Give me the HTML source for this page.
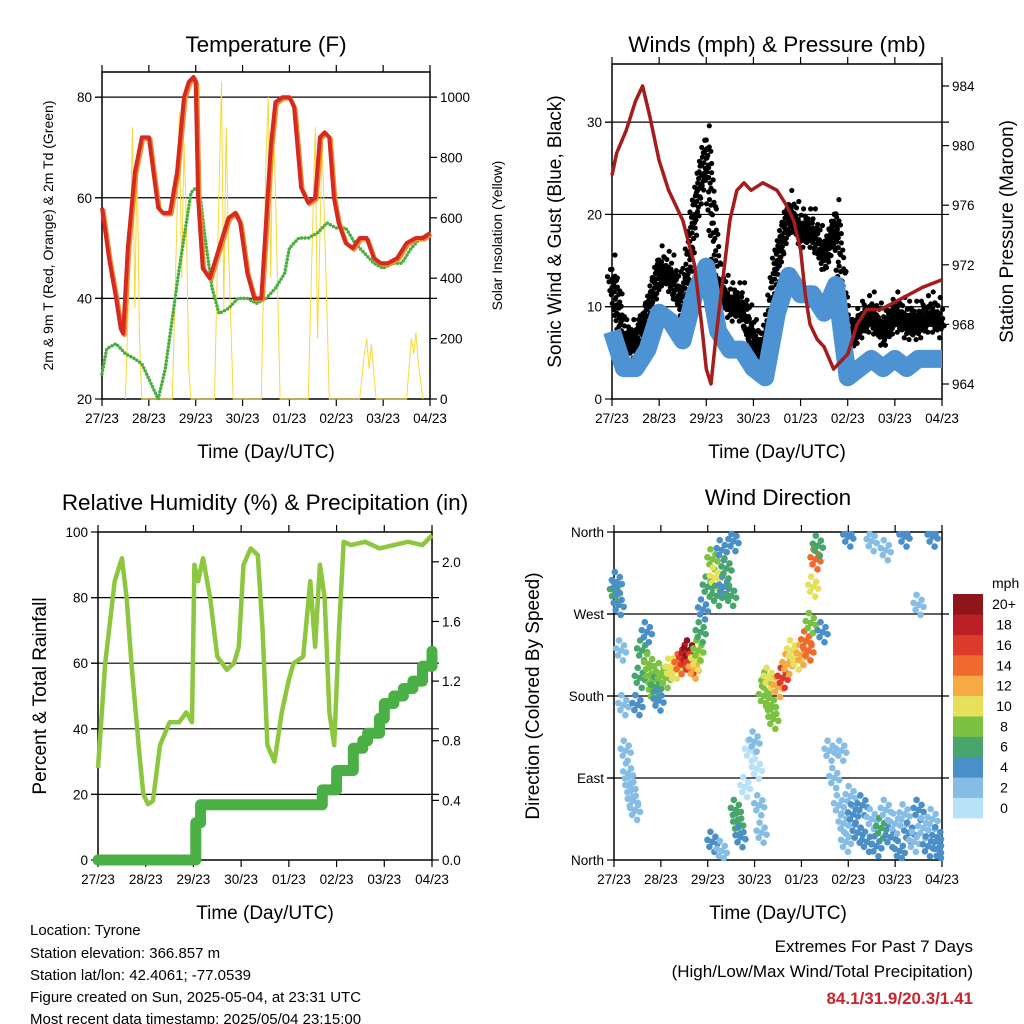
<!DOCTYPE html>
<html><head><meta charset="utf-8">
<style>
html,body{margin:0;padding:0;background:#fff;}
svg{display:block;font-family:"Liberation Sans",sans-serif;}
</style></head>
<body>
<svg id="fig" width="1024" height="1024" viewBox="0 0 1024 1024" xmlns="http://www.w3.org/2000/svg">
<g id="layer"></g>
<g font-size="15" fill="#000">
<text x="30" y="935">Location: Tyrone</text>
<text x="30" y="958">Station elevation: 366.857 m</text>
<text x="30" y="980">Station lat/lon: 42.4061; -77.0539</text>
<text x="30" y="1002">Figure created on Sun, 2025-05-04, at 23:31 UTC</text>
<text x="30" y="1024">Most recent data timestamp: 2025/05/04 23:15:00</text>
</g>
<g text-anchor="end">
<text x="973" y="952" font-size="17">Extremes For Past 7 Days</text>
<text x="973" y="977" font-size="17">(High/Low/Max Wind/Total Precipitation)</text>
<text x="973" y="1004" font-size="17" font-weight="bold" fill="#c8262c">84.1/31.9/20.3/1.41</text>
</g>
</svg>
<script>
const xTickLabels=['27/23','28/23','29/23','30/23','01/23','02/23','03/23','04/23'];
// Temperature panel
const tempT=[0,0.15,0.3,0.4,0.45,0.55,0.7,0.85,1.0,1.1,1.2,1.3,1.45,1.6,1.75,1.85,1.95,2.0,2.05,2.15,2.3,2.5,2.7,2.85,2.95,3.1,3.25,3.4,3.5,3.6,3.7,3.85,4.0,4.1,4.25,4.4,4.55,4.65,4.75,4.85,4.95,5.05,5.2,5.35,5.5,5.65,5.8,5.95,6.1,6.3,6.5,6.7,6.85,7];
const temp2m=[58,48,40,34,33,50,65,72,72,65,58,57,57,65,80,83,84,83,60,46,44,50,56,57,55,45,40,40,55,70,79,80,80,78,62,59,60,72,73,72,60,55,51,50,52,52,48,47,47,48,51,52,52,53];
const dewT=[0,0.1,0.3,0.5,0.7,0.85,1.0,1.1,1.2,1.35,1.5,1.65,1.8,1.9,2.0,2.1,2.2,2.35,2.5,2.7,2.9,3.1,3.3,3.5,3.7,3.9,4.0,4.2,4.4,4.6,4.8,5.0,5.2,5.4,5.6,5.8,6.0,6.2,6.4,6.6,6.8,7];
const dewpoint=[25,30,31,29,28,27,24,22,20,26,36,46,55,61,62,60,52,42,37,38,40,40,39,40,42,45,50,52,52,53,55,54,54,51,49,47,46,47,47,50,52,53];
const solarT=[0.5,0.6,0.65,0.7,0.75,0.8,0.85,1.5,1.6,1.65,1.7,1.75,1.8,1.85,1.9,2.4,2.5,2.55,2.6,2.65,2.7,2.8,3.4,3.5,3.55,3.6,3.65,3.7,3.8,4.4,4.5,4.55,4.6,4.7,4.8,4.85,5.5,5.6,5.65,5.7,5.75,5.85,6.5,6.6,6.65,6.7,6.75,6.85];
const solarV=[0,500,900,300,800,200,0,0,600,950,400,850,600,100,0,0,700,1050,300,900,500,0,0,800,1000,400,950,700,0,0,600,900,200,850,300,0,0,150,200,100,180,0,0,200,150,220,120,0];
// Wind panel
const windT=[0,0.25,0.5,0.75,1,1.25,1.5,1.75,2,2.25,2.5,2.75,3,3.25,3.5,3.75,4,4.25,4.5,4.75,5,5.25,5.5,5.75,6,6.25,6.5,6.75,7];
const windSpeed=[8,4,4,6,10,9,7,12,15,8,6,6,4,3,10,14,12,12,10,13,3,4,5,4,5,4,5,5,5];
const windGust=[13,6,6,9,14,13,10,20,27,12,10,10,6,5,15,20,18,18,15,19,6,8,9,7,9,8,8,9,8];
const presT=[0,0.1,0.3,0.5,0.65,0.8,1.0,1.2,1.5,1.75,1.9,2.0,2.1,2.2,2.35,2.5,2.65,2.8,2.95,3.2,3.5,3.7,3.85,4.0,4.1,4.2,4.35,4.5,4.7,4.85,5.0,5.2,5.4,5.7,6.0,6.3,6.6,7];
const pressure=[978,979.5,981,983,984,982,979,977,975,972,968,965,964,967,971,975,977,977.5,977,977.5,977,976,975,973,970,968,967,966.5,965,965.5,966,968,969,969,969.5,970,970.5,971];
// RH panel
const rhT=[0,0.15,0.35,0.5,0.6,0.7,0.85,0.95,1.05,1.15,1.3,1.5,1.7,1.85,1.97,2.02,2.1,2.2,2.35,2.5,2.7,2.85,2.95,3.05,3.2,3.35,3.45,3.55,3.7,3.85,4.0,4.1,4.3,4.45,4.55,4.65,4.75,4.85,4.95,5.05,5.15,5.3,5.6,5.9,6.2,6.5,6.8,7];
const rh=[28,60,85,92,80,60,35,20,17,18,35,42,42,45,42,90,85,92,80,62,58,60,65,90,95,93,70,35,30,45,55,60,62,85,65,90,80,45,35,70,97,96,97,95,96,97,96,99];
const precipT=[0,2.0,2.05,2.15,4.6,4.7,4.95,5.0,5.3,5.35,5.55,5.65,5.9,6.0,6.2,6.4,6.6,6.8,7];
const precip=[0,0,0.25,0.37,0.37,0.47,0.47,0.6,0.6,0.75,0.8,0.85,0.95,1.05,1.1,1.15,1.2,1.3,1.4];
// Wind direction panel
const dirT=[0.02,0.06,0.1,0.15,0.2,0.25,0.3,0.35,0.4,0.45,0.5,0.55,0.6,0.7,0.75,0.8,0.85,0.9,0.95,1.0,1.1,1.2,1.3,1.4,1.5,1.55,1.6,1.65,1.7,1.75,1.8,1.85,1.9,2.0,2.1,2.15,2.2,2.3,2.35,2.4,2.5,2.55,2.1,2.3,2.6,2.65,2.7,2.8,2.9,3.0,3.05,3.1,3.15,3.2,3.25,3.3,3.35,3.4,3.5,3.6,3.7,3.8,3.9,4.0,4.1,4.15,4.2,4.25,4.3,4.35,4.45,4.6,4.7,4.8,4.85,4.9,4.95,5.0,5.05,5.1,5.2,5.3,5.4,5.5,5.6,5.7,5.8,5.9,6.0,6.1,6.2,6.3,6.4,6.5,6.6,6.7,6.8,6.9,6.95,5.5,6.2,6.8,6.5,5.8];
const dirDeg=[295,305,280,230,170,120,95,80,65,55,170,200,230,250,215,200,185,190,175,205,200,210,210,215,220,225,230,215,210,220,230,250,275,300,330,310,290,340,300,320,290,350,20,10,55,40,25,80,120,130,100,60,30,180,195,200,170,155,190,200,215,230,220,225,240,230,260,300,330,345,250,120,90,60,120,40,20,355,70,50,30,60,20,45,15,35,55,25,40,10,50,30,20,55,35,15,45,25,10,350,355,355,280,340];
const dirSpeed=[6,5,4,2,2,2,2,2,2,2,4,6,6,4,8,8,9,7,4,8,9,10,11,14,16,18,20,17,12,10,8,6,5,6,8,10,6,5,4,7,6,4,4,3,6,6,5,1,1,2,1,2,2,9,8,10,8,9,12,16,12,10,11,13,15,14,8,10,14,6,4,2,3,2,2,3,2,4,3,4,5,4,4,3,4,6,3,4,2,4,3,4,3,4,2,4,3,4,5,2,4,4,3,2];
const speedBins=['0','2','4','6','8','10','12','14','16','18','20+'];
const binColors=['#b8e2f7','#85bde6','#4a8fc7','#48a56c','#7cc142','#e6e05a','#f6aa45','#ef6a2c','#de3a2b','#bd1f26','#8e1519'];

const NS='http://www.w3.org/2000/svg';
const layer=document.getElementById('layer');
function mk(tag,attrs,parent){const e=document.createElementNS(NS,tag);for(const k in attrs)e.setAttribute(k,attrs[k]);(parent||layer).appendChild(e);return e;}
function txt(s,attrs,parent){const e=mk('text',attrs,parent);e.textContent=s;return e;}
function lin(d0,d1,p0,p1){return v=>p0+(v-d0)/(d1-d0)*(p1-p0);}
function pathOf(ts,vs,X,Y){let d='';const n=Math.min(ts.length,vs.length);for(let i=0;i<n;i++)d+=(i?'L':'M')+X(ts[i]).toFixed(1)+','+Y(vs[i]).toFixed(1);return d;}

function panel(cfg){
  const g=mk('g',{});
  
  
  const X=lin(0,7,cfg.x0,cfg.x1);
  const Y=lin(cfg.ymin,cfg.ymax,cfg.y1,cfg.y0);
  cfg.grid.forEach(v=>{const l=mk('line',{x1:cfg.x0-7,x2:cfg.x1+(cfg.gridRight?7:0),y1:Y(v),y2:Y(v),stroke:'#000','stroke-width':1.2},g);
    
    });
  const b=mk('rect',{x:cfg.x0,y:cfg.y0,width:cfg.x1-cfg.x0,height:cfg.y1-cfg.y0,fill:'none',stroke:'#000','stroke-width':1.5},g);
  
  
  const xa=mk('g',{},g);
  
  
  xTickLabels.forEach((s,i)=>{const x=X(i);
    mk('line',{x1:x,x2:x,y1:cfg.y1,y2:cfg.y1+7,stroke:'#000','stroke-width':1.2},xa);
    mk('line',{x1:x,x2:x,y1:cfg.y0,y2:cfg.y0-7,stroke:'#000','stroke-width':1.2},xa);
    const t=txt(s,{x:x,y:cfg.y1+24,'font-size':13.5,'text-anchor':'middle'},xa);
    
    });
  const xt=txt('Time (Day/UTC)',{x:(cfg.x0+cfg.x1)/2,y:cfg.y1+59,'font-size':19,'text-anchor':'middle'},g);
  
  
  const ya=mk('g',{},g);
  
  
  cfg.lticks.forEach((v,i)=>{const y=Y(v);
    mk('line',{x1:cfg.x0-7,x2:cfg.x0,y1:y,y2:y,stroke:'#000','stroke-width':1.2},ya);
    const t=txt(cfg.llabels[i],{x:cfg.x0-10,y:y+5,'font-size':13.5,'text-anchor':'end'},ya);
    
    });
  const tt=txt(cfg.title,{x:(cfg.x0+cfg.x1)/2,y:cfg.titleY,'font-size':22.5,'text-anchor':'middle'},g);
  
  
  const yt=txt(cfg.ltitle,{x:0,y:0,'font-size':cfg.ltSize,'text-anchor':'middle',transform:`translate(${cfg.ltX},${(cfg.y0+cfg.y1)/2}) rotate(-90)`},g);
  
  
  if(cfg.rtitle){
    const rt=txt(cfg.rtitle,{x:0,y:0,'font-size':cfg.rtSize,'text-anchor':'middle',transform:`translate(${cfg.rtX},${(cfg.y0+cfg.y1)/2}) rotate(-90)`},g);
    
    
  }
  if(cfg.rticks){
    const YR=lin(cfg.rmin,cfg.rmax,cfg.ry1,cfg.ry0);
    const ra=mk('g',{},g);
    
    
    cfg.rticks.forEach((v,i)=>{const y=YR(v);
      mk('line',{x1:cfg.x1,x2:cfg.x1+7,y1:y,y2:y,stroke:'#000','stroke-width':1.2},ra);
      const t=txt(cfg.rlabels[i],{x:cfg.x1+10,y:y+5,'font-size':13.5},ra);
      
      });
  }
  return {g,X,Y};
}

// ---- Panel 1: temperature
const p1=panel({name:'temperature-panel',x0:102,x1:430,y0:72,y1:399,ymin:20,ymax:85,grid:[40,60,80],gridRight:true,
 lticks:[20,40,60,80],llabels:['20','40','60','80'],title:'Temperature (F)',titleY:52,
 ltitle:'2m & 9m T (Red, Orange) & 2m Td (Green)',ltSize:14,ltX:53,rtitle:'Solar Insolation (Yellow)',rtSize:14,rtX:502,
 rticks:[0,200,400,600,800,1000],rlabels:['0','200','400','600','800','1000'],rmin:0,rmax:1000,ry0:97,ry1:399});
const Ysol=lin(0,1000,399,97);
let e;
e=mk('path',{d:pathOf(solarT,solarV,p1.X,Ysol),fill:'none',stroke:'#f7d83c','stroke-width':1},p1.g);


e=mk('path',{d:pathOf(dewT,dewpoint,p1.X,p1.Y),fill:'none',stroke:'#4bae3f','stroke-width':3.5,'stroke-dasharray':'0 3.5','stroke-linecap':'round'},p1.g);


e=mk('path',{d:pathOf(tempT,temp2m,p1.X,p1.Y),fill:'none',stroke:'#f08a2a','stroke-width':4,transform:'translate(1.5,1.5)','stroke-linejoin':'round'},p1.g);


e=mk('path',{d:pathOf(tempT,temp2m,p1.X,p1.Y),fill:'none',stroke:'#d42a22','stroke-width':4,'stroke-linejoin':'round'},p1.g);



// ---- Panel 2: winds
const p2=panel({name:'winds-panel',x0:612,x1:942,y0:64,y1:399,ymin:0,ymax:36.3,grid:[10,20,30],gridRight:true,
 lticks:[0,10,20,30],llabels:['0','10','20','30'],title:'Winds (mph) & Pressure (mb)',titleY:52,
 ltitle:'Sonic Wind & Gust (Blue, Black)',ltSize:19,ltX:561,rtitle:'Station Pressure (Maroon)',rtSize:19,rtX:1013,
 rticks:[964,968,972,976,980,984],rlabels:['964','968','972','976','980','984'],rmin:964,rmax:984,ry0:86,ry1:384});
const Ypr=lin(964,984,384,86);
const offs=[[0,0],[-2,4],[2,-4],[-1,-8],[1,8],[3,2],[-3,-2],[0,-14],[0,12],[2,-20]];
const gustG=mk('g',{},p2.g);


for(let i=0;i<windT.length-1;i++){
  for(let k=0;k<5;k++){const f=k/5;const t=windT[i]+f*(windT[i+1]-windT[i]);const v=windGust[i]+f*(windGust[i+1]-windGust[i]);
    offs.forEach((o,j)=>{const yy=Math.min(397,Math.max(66,p2.Y(v)+o[1]*((k+j)%3?0.7:1.2)));mk('circle',{cx:p2.X(t)+o[0]*1.5,cy:yy,r:2.6,fill:'#000'},gustG);});}
}
e=mk('path',{d:pathOf(windT,windSpeed,p2.X,p2.Y),fill:'none',stroke:'#4d93d3','stroke-width':18,'stroke-linejoin':'round',transform:'translate(0,6)'},p2.g);


e=mk('path',{d:pathOf(presT,pressure,p2.X,Ypr),fill:'none',stroke:'#a31d1d','stroke-width':3.5,'stroke-linejoin':'round'},p2.g);



// ---- Panel 3: RH & precip
const p3=panel({name:'humidity-panel',x0:98,x1:432,y0:532,y1:860,ymin:0,ymax:100,grid:[20,40,60,80],gridRight:true,
 lticks:[0,20,40,60,80,100],llabels:['0','20','40','60','80','100'],title:'Relative Humidity (%) & Precipitation (in)',titleY:510,
 ltitle:'Percent & Total Rainfall',ltSize:19,ltX:46,
 rticks:[0,0.4,0.8,1.2,1.6,2.0],rlabels:['0.0','0.4','0.8','1.2','1.6','2.0'],rmin:0,rmax:2.2,ry0:532,ry1:860});
const Ypc=lin(0,2.2,860,532);
e=mk('path',{d:pathOf(rhT,rh,p3.X,p3.Y),fill:'none',stroke:'#8dc63f','stroke-width':4.5,'stroke-linejoin':'round'},p3.g);


let pd='';
for(let i=0;i<precipT.length;i++){const x=p3.X(precipT[i]),y=Ypc(precip[i]);pd+=(i?'L'+x.toFixed(1)+','+Ypc(precip[i-1]).toFixed(1)+'L':'M')+x.toFixed(1)+','+y.toFixed(1);}
e=mk('path',{d:pd,fill:'none',stroke:'#4aaf45','stroke-width':11,'stroke-linejoin':'round','stroke-linecap':'round'},p3.g);



// ---- Panel 4: wind direction
const p4=panel({name:'wind-direction-panel',x0:614,x1:942,y0:532,y1:860,ymin:0,ymax:360,grid:[90,180,270],gridRight:true,
 lticks:[0,90,180,270,360],llabels:['North','East','South','West','North'],title:'Wind Direction',titleY:505,
 ltitle:'Direction (Colored By Speed)',ltSize:19,ltX:539});
const dg=mk('g',{},p4.g);


const doffs=[[0,0],[-3,5],[3,-5],[-2,-10],[2,10],[5,2],[-5,-2]];
const nD=Math.min(dirT.length,dirDeg.length,dirSpeed.length);
for(let i=0;i<nD;i++){
  const bin=Math.min(10,Math.max(0,Math.floor(dirSpeed[i]/2)));
  doffs.forEach(o=>{const cy=Math.min(858,Math.max(534,p4.Y(dirDeg[i])+o[1]));
    mk('circle',{cx:Math.min(941,p4.X(dirT[i])+o[0]),cy:cy,r:3.3,fill:binColors[bin]},dg);});
}
const cb=mk('g',{});


txt('mph',{x:992,y:588,'font-size':14},cb);
const bh=224/11;
speedBins.forEach((s,i)=>{const y=594+(10-i)*bh;
  const r=mk('rect',{x:953,y:y,width:30,height:bh+0.3,fill:binColors[i]},cb);
  
  
  const t=txt(s,{x:1004,y:y+bh/2+5,'font-size':14,'text-anchor':'middle'},cb);
  
  });
</script>
</body></html>
